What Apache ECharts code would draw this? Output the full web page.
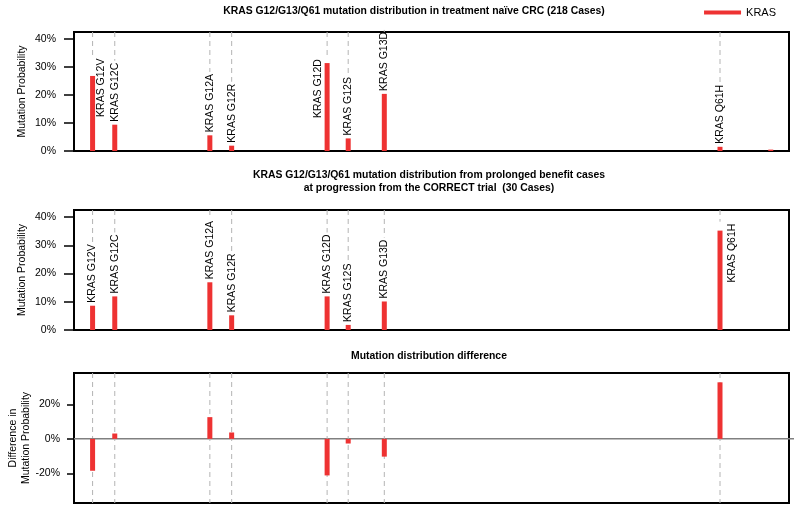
<!DOCTYPE html>
<html>
<head>
<meta charset="utf-8">
<script src="https://cdn.jsdelivr.net/npm/echarts@6/dist/echarts.min.js"></script>
<style>
  html, body { margin: 0; padding: 0; background: #fff; }
  #main { width: 800px; height: 513px; }
</style>
</head>
<body>
<div id="main"></div>
<script>
// positions of each mutation on the (hidden) x axis, 0..100
const positions = [2.6, 5.7, 19.0, 22.05, 35.4, 38.35, 43.4, 90.35, 97.45];
const mutations = ['KRAS G12V', 'KRAS G12C', 'KRAS G12A', 'KRAS G12R', 'KRAS G12D', 'KRAS G12S', 'KRAS G13D', 'KRAS Q61H', ''];
// mutation probability, %
const naiveCRC = [26.8, 9.4, 5.6, 1.9, 31.4, 4.5, 20.4, 1.5, 0.5];
const correctTrial = [8.6, 11.9, 16.9, 5.2, 11.9, 1.8, 10.1, 35.2, 0];
const difference = [-18.5, 3.1, 12.6, 3.7, -21.2, -2.7, -10.3, 32.8, null];
const probTicks = [0, 10, 20, 30, 40];
const diffTicks = [-20, 0, 20];

const RED = '#EE3232';
const FONT = 'Arial, "Liberation Sans", Helvetica, sans-serif';
const LABEL_FONT = '10.5px ' + FONT;

// labels that were moved beside the bar (dx px sideways, dy px below bar top for label end)
const labelShift = {
    top: { 'KRAS G12V': [9, 41], 'KRAS G12D': [-9, 55] },
    mid: { 'KRAS Q61H': [12, 52] }
};

const measureCtx = document.createElement('canvas').getContext('2d');
function textWidth(t) {
    measureCtx.font = LABEL_FONT;
    return measureCtx.measureText(t).width;
}

function pairs(vals) {
    return positions.map(function (p, i) { return [p, vals[i]]; });
}

function probRender(panel) {
    return function (params, api) {
        const i = params.dataIndex;
        const v = api.value(1);
        const cs = params.coordSys;
        const base = api.coord([api.value(0), 0]);
        const top = api.coord([api.value(0), v]);
        const name = mutations[i];
        const children = [];
        const hasBar = v != null && !isNaN(v) && v !== 0;
        if (name) {
            const sh = labelShift[panel][name] || [0, -3];
            const lx = base[0] + sh[0];
            const ly = top[1] + sh[1];
            const labelTop = ly - textWidth(name);
            const lineEnd = Math.min(labelTop, top[1]) - 2;
            children.push({
                type: 'line',
                shape: { x1: base[0], y1: cs.y, x2: base[0], y2: lineEnd },
                style: { stroke: '#b4b4b4', lineWidth: 1, lineDash: [5, 4] }
            });
            children.push({
                type: 'text', x: lx, y: ly, rotation: Math.PI / 2,
                style: {
                    text: name, fill: '#000', font: LABEL_FONT,
                    align: 'left', verticalAlign: 'middle',
                    textAlign: 'left', textVerticalAlign: 'middle'
                }
            });
        }
        if (hasBar) {
            children.push({
                type: 'rect',
                shape: { x: base[0] - 2.5, y: top[1], width: 5, height: base[1] - top[1] },
                style: { fill: RED }
            });
        }
        return { type: 'group', children: children };
    };
}

function diffRender(params, api) {
    const i = params.dataIndex;
    const v = api.value(1);
    const cs = params.coordSys;
    const base = api.coord([api.value(0), 0]);
    const top = api.coord([api.value(0), v]);
    const children = [];
    if (mutations[i]) {
        children.push({
            type: 'line',
            shape: { x1: base[0], y1: cs.y, x2: base[0], y2: cs.y + cs.height },
            style: { stroke: '#b4b4b4', lineWidth: 1, lineDash: [5, 4] }
        });
    }
    if (i === 0) {
        children.push({
            type: 'line',
            shape: { x1: cs.x, y1: base[1], x2: cs.x + cs.width + 5, y2: base[1] },
            style: { stroke: '#808080', lineWidth: 1.5 }
        });
    }
    if (v != null && !isNaN(v)) {
        children.push({
            type: 'rect',
            shape: { x: base[0] - 2.5, y: Math.min(base[1], top[1]), width: 5, height: Math.abs(base[1] - top[1]) },
            style: { fill: RED }
        });
    }
    return { type: 'group', children: children };
}

function yAxis(idx, min, max, ticks, name, gap, tickLen, margin) {
    return {
        type: 'value', gridIndex: idx, min: min, max: max,
        name: name, nameLocation: 'middle', nameGap: gap, nameMoveOverlap: false,
        nameTextStyle: { fontSize: 10.5, color: '#000', fontFamily: FONT, lineHeight: 13 },
        axisLine: { show: true, lineStyle: { color: '#000', width: 2 } },
        axisTick: { show: true, length: tickLen, customValues: ticks, lineStyle: { color: '#000', width: 1.5 } },
        axisLabel: {
            show: true, margin: margin, fontSize: 10.5, color: '#000', fontFamily: FONT,
            customValues: ticks, formatter: '{value}%'
        },
        splitLine: { show: false }
    };
}

function xAxis(idx) {
    return {
        type: 'value', gridIndex: idx, min: 0, max: 100, show: false,
        splitLine: { show: false }
    };
}

const gridBase = { left: 74, right: 11, show: true, borderColor: '#000', borderWidth: 2, outerBoundsMode: 'none', containLabel: false };
const titleStyle = { fontSize: 10.4, fontWeight: 'bold', color: '#000', fontFamily: FONT, lineHeight: 12.6 };

const chart = echarts.init(document.getElementById('main'));
chart.setOption({
    backgroundColor: '#fff',
    animation: false,
    title: [
        { text: 'KRAS G12/G13/Q61 mutation distribution in treatment naïve CRC (218 Cases)', left: 414, top: 5, textAlign: 'center', textStyle: titleStyle, padding: 0 },
        { text: 'KRAS G12/G13/Q61 mutation distribution from prolonged benefit cases\nat progression from the CORRECT trial  (30 Cases)', left: 429, top: 169, textAlign: 'center', textStyle: titleStyle, padding: 0 },
        { text: 'Mutation distribution difference', left: 429, top: 350, textAlign: 'center', textStyle: titleStyle, padding: 0 }
    ],
    legend: {
        data: [{ name: 'KRAS', icon: 'rect' }],
        right: 24, top: 7, padding: 0,
        itemWidth: 37, itemHeight: 4, itemGap: 6,
        itemStyle: { color: RED },
        textStyle: { fontSize: 11, color: '#000', fontFamily: FONT }
    },
    grid: [
        Object.assign({ top: 32, height: 119 }, gridBase),
        Object.assign({ top: 210, height: 120 }, gridBase),
        Object.assign({ top: 373, height: 130 }, gridBase)
    ],
    xAxis: [xAxis(0), xAxis(1), xAxis(2)],
    yAxis: [
        yAxis(0, 0, 42.5, probTicks, 'Mutation Probability', 45, 10, 18),
        yAxis(1, 0, 42.5, probTicks, 'Mutation Probability', 45, 10, 18),
        yAxis(2, -37.2, 38.2, diffTicks, 'Difference in\nMutation Probability', 41, 7, 14)
    ],
    series: [
        { name: 'KRAS', type: 'custom', xAxisIndex: 0, yAxisIndex: 0, itemStyle: { color: RED }, renderItem: probRender('top'), data: pairs(naiveCRC) },
        { name: 'KRAS', type: 'custom', xAxisIndex: 1, yAxisIndex: 1, itemStyle: { color: RED }, renderItem: probRender('mid'), data: pairs(correctTrial) },
        { name: 'KRAS', type: 'custom', xAxisIndex: 2, yAxisIndex: 2, itemStyle: { color: RED }, renderItem: diffRender, data: pairs(difference) }
    ]
});
</script>
</body>
</html>
